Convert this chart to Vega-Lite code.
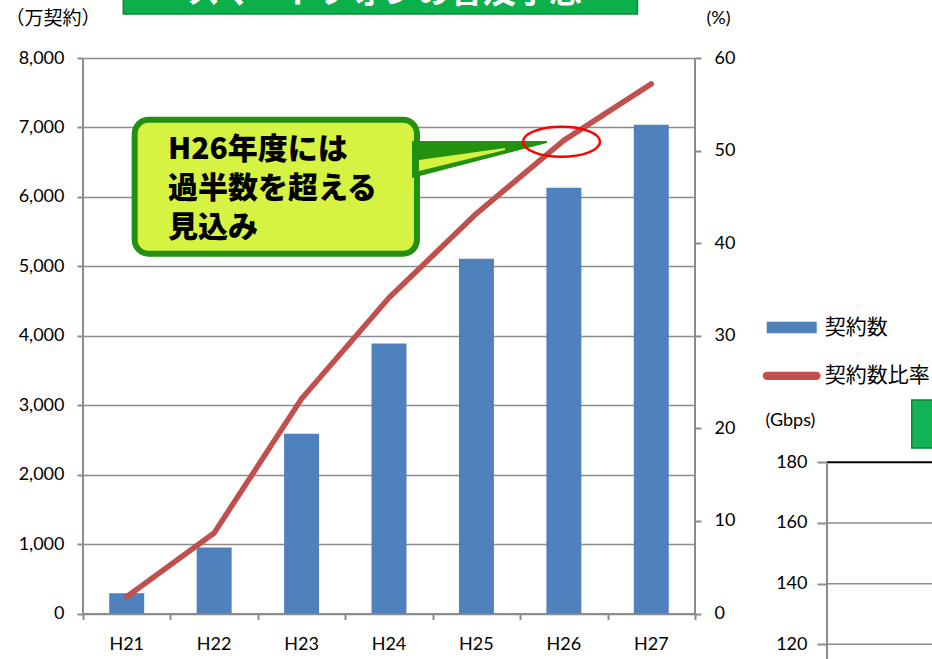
{
  "$schema": "https://vega.github.io/schema/vega-lite/v6.json",
  "width": 612,
  "height": 601,
  "autosize": {"type": "none"},
  "padding": {"left": 83, "top": 58, "right": 237, "bottom": 0},
  "background": "white",
  "config": {"view": {"stroke": null}, "font": "Lato"},
  "datasets": {
    "contracts": [
      {"year": "H21", "count": 290, "ratio": 1.8},
      {"year": "H22", "count": 950, "ratio": 8.7},
      {"year": "H23", "count": 2590, "ratio": 23.2},
      {"year": "H24", "count": 3890, "ratio": 34.1},
      {"year": "H25", "count": 5110, "ratio": 43.2},
      {"year": "H26", "count": 6130, "ratio": 51.1},
      {"year": "H27", "count": 7040, "ratio": 57.2}
    ],
    "axisLines": [
      {"pos": 0, "v0": 0, "v1": 8000},
      {"pos": 7, "v0": 0, "v1": 8000}
    ],
    "banner": [
      {"x0": 0.461, "x1": 6.342, "v0": 8633.7, "v1": 9500, "label": "スマートフォンの普及予想", "xc": 3.449, "vt": 8792}
    ],
    "calloutBox": [
      {"x0": 0.591, "x1": 3.82, "v0": 5181.7, "v1": 7111.4}
    ],
    "calloutTail": [
      {"pos": 3.763, "top": 6804.7, "bottom": 6271.8},
      {"pos": 5.307, "top": 6804.7, "bottom": 6775.9}
    ],
    "calloutTailLight": [
      {"pos": 3.843, "top": 6531.1, "bottom": 6372.7},
      {"pos": 4.827, "top": 6703.9, "bottom": 6675.1}
    ],
    "calloutText": [
      {"pos": 0.972, "v": 6675.1, "line": "H26年度には"},
      {"pos": 0.972, "v": 6113.4, "line": "過半数を超える"},
      {"pos": 0.972, "v": 5551.8, "line": "見込み"}
    ],
    "highlight": [
      {"pos": 5.473, "v": 6794.6}
    ],
    "gbpsGrid": [
      {"g": 120, "x0": 8.51, "x1": 9.75},
      {"g": 140, "x0": 8.51, "x1": 9.75},
      {"g": 160, "x0": 8.51, "x1": 9.75}
    ],
    "gbpsTop": [
      {"g": 180, "x0": 8.51, "x1": 9.75}
    ],
    "gbpsAxisLine": [
      {"pos": 8.51, "g0": 115.16, "g1": 180}
    ],
    "gbpsBox": [
      {"x0": 9.479, "x1": 9.75, "g0": 184.72, "g1": 200.54}
    ]
  },
  "layer": [
    {
      "data": {"name": "contracts"},
      "mark": {"type": "bar", "width": {"band": 0.4}, "color": "#4f81bd"},
      "encoding": {
        "x": {
          "field": "year", "type": "nominal", "sort": null,
          "scale": {"type": "band", "paddingInner": 0, "paddingOuter": 0},
          "axis": {
            "orient": "bottom", "offset": -45.5, "title": null, "labelAngle": 0,
            "ticks": false, "tickSize": 0, "labelPadding": 22,
            "domain": true, "domainColor": "#8c8c8c", "domainWidth": 2,
            "labelFont": "Lato", "labelFontSize": 18, "labelColor": "#000000", "grid": false
          }
        },
        "y": {
          "field": "count", "type": "quantitative",
          "scale": {"domain": [-655.2, 8000], "nice": false, "zero": false},
          "axis": {
            "orient": "left", "values": [0, 1000, 2000, 3000, 4000, 5000, 6000, 7000, 8000],
            "format": ",.0f", "title": "（万契約）", "titleAngle": 0, "titleX": -78, "titleY": -40,
            "titleAlign": "left", "titleBaseline": "middle", "titleFont": "Noto Sans CJK JP",
            "titleFontSize": 19, "titleFontWeight": "normal", "titleColor": "#000000",
            "grid": true, "gridColor": "#8c8c8c", "gridWidth": 1.5, "domain": false,
            "tickSize": 6, "tickColor": "#8c8c8c", "tickWidth": 2, "labelPadding": 13,
            "labelFont": "Lato", "labelFontSize": 18, "labelColor": "#000000"
          }
        },
        "fill": {
          "datum": "契約数", "type": "nominal",
          "scale": {"range": ["#4f81bd"]},
          "legend": {
            "orient": "none", "legendX": 683.7, "legendY": 244.5, "title": null, "padding": 0,
            "symbolType": "M-1,-0.234L1,-0.234L1,0.234L-1,0.234Z", "symbolSize": 2500,
            "symbolStrokeWidth": 0, "labelFont": "Noto Sans CJK JP", "labelFontSize": 21,
            "labelColor": "#000000", "labelOffset": 8
          }
        }
      }
    },
    {
      "data": {"name": "contracts"},
      "mark": {"type": "line", "strokeWidth": 5.5, "strokeCap": "round", "strokeJoin": "round"},
      "encoding": {
        "x": {
          "field": "year", "type": "nominal", "sort": null,
          "scale": {"type": "point", "padding": 0.5},
          "axis": null
        },
        "y": {
          "field": "ratio", "type": "quantitative",
          "scale": {"domain": [-4.914, 60], "nice": false, "zero": false},
          "axis": {
            "orient": "right", "values": [0, 10, 20, 30, 40, 50, 60],
            "title": "(%)", "titleAngle": 0, "titleX": 11, "titleY": -40,
            "titleAlign": "left", "titleBaseline": "middle", "titleFont": "Lato",
            "titleFontSize": 18, "titleFontWeight": "normal", "titleColor": "#000000",
            "grid": false, "domain": false, "tickSize": 6, "tickColor": "#8c8c8c", "tickWidth": 2,
            "labelPadding": 13, "labelFont": "Lato", "labelFontSize": 18, "labelColor": "#000000"
          }
        },
        "stroke": {
          "datum": "契約数比率", "type": "nominal",
          "scale": {"range": ["#c0504d"]},
          "legend": {
            "orient": "none", "legendX": 679.7, "legendY": 288.8, "title": null, "padding": 0,
            "symbolType": "M-0.857,-0.143L0.857,-0.143A0.143,0.143,0,0,1,0.857,0.143L-0.857,0.143A0.143,0.143,0,0,1,-0.857,-0.143Z",
            "symbolSize": 3364, "symbolFillColor": "#c0504d", "symbolStrokeWidth": 0,
            "labelFont": "Noto Sans CJK JP", "labelFontSize": 21,
            "labelColor": "#000000", "labelOffset": 4
          }
        }
      }
    },
    {
      "data": {"name": "axisLines"},
      "mark": {"type": "rule", "color": "#8c8c8c", "strokeWidth": 2},
      "encoding": {
        "x": {
          "field": "pos", "type": "quantitative",
          "scale": {"domain": [0, 7], "nice": false, "zero": false},
          "axis": {
            "orient": "bottom", "offset": -45.5, "values": [0, 1, 2, 3, 4, 5, 6, 7],
            "labels": false, "domain": false, "grid": false, "ticks": true, "tickSize": 6,
            "tickColor": "#8c8c8c", "tickWidth": 2, "title": null
          }
        },
        "y": {"field": "v0", "type": "quantitative", "scale": {"domain": [-655.2, 8000], "nice": false, "zero": false}, "axis": null},
        "y2": {"field": "v1"}
      }
    },
    {
      "data": {"name": "banner"},
      "mark": {"type": "rect", "color": "#0cb04b", "stroke": "#078a3a", "strokeWidth": 1.5},
      "encoding": {
        "x": {"field": "x0", "type": "quantitative", "scale": {"domain": [0, 7], "nice": false, "zero": false}, "axis": null},
        "x2": {"field": "x1"},
        "y": {"field": "v0", "type": "quantitative", "scale": {"domain": [-655.2, 8000], "nice": false, "zero": false}, "axis": null},
        "y2": {"field": "v1"}
      }
    },
    {
      "data": {"name": "banner"},
      "mark": {"type": "text", "color": "#ffffff", "font": "Noto Sans CJK JP", "fontSize": 33, "fontWeight": "bold", "align": "center", "baseline": "alphabetic"},
      "encoding": {
        "x": {"field": "xc", "type": "quantitative", "scale": {"domain": [0, 7], "nice": false, "zero": false}, "axis": null},
        "y": {"field": "vt", "type": "quantitative", "scale": {"domain": [-655.2, 8000], "nice": false, "zero": false}, "axis": null},
        "text": {"field": "label"}
      }
    },
    {
      "data": {"name": "calloutBox"},
      "mark": {"type": "rect", "color": "#d6f341", "stroke": "#23900f", "strokeWidth": 6, "cornerRadius": 14},
      "encoding": {
        "x": {"field": "x0", "type": "quantitative", "scale": {"domain": [0, 7], "nice": false, "zero": false}, "axis": null},
        "x2": {"field": "x1"},
        "y": {"field": "v0", "type": "quantitative", "scale": {"domain": [-655.2, 8000], "nice": false, "zero": false}, "axis": null},
        "y2": {"field": "v1"}
      }
    },
    {
      "data": {"name": "calloutTail"},
      "mark": {"type": "area", "color": "#23900f", "opacity": 1},
      "encoding": {
        "x": {"field": "pos", "type": "quantitative", "scale": {"domain": [0, 7], "nice": false, "zero": false}, "axis": null},
        "y": {"field": "top", "type": "quantitative", "scale": {"domain": [-655.2, 8000], "nice": false, "zero": false}, "axis": null},
        "y2": {"field": "bottom"}
      }
    },
    {
      "data": {"name": "calloutTailLight"},
      "mark": {"type": "area", "color": "#d6f341", "opacity": 1},
      "encoding": {
        "x": {"field": "pos", "type": "quantitative", "scale": {"domain": [0, 7], "nice": false, "zero": false}, "axis": null},
        "y": {"field": "top", "type": "quantitative", "scale": {"domain": [-655.2, 8000], "nice": false, "zero": false}, "axis": null},
        "y2": {"field": "bottom"}
      }
    },
    {
      "data": {"name": "calloutText"},
      "mark": {"type": "text", "color": "#000000", "font": "Noto Sans CJK JP", "fontSize": 30, "fontWeight": 900, "align": "left", "baseline": "middle"},
      "encoding": {
        "x": {"field": "pos", "type": "quantitative", "scale": {"domain": [0, 7], "nice": false, "zero": false}, "axis": null},
        "y": {"field": "v", "type": "quantitative", "scale": {"domain": [-655.2, 8000], "nice": false, "zero": false}, "axis": null},
        "text": {"field": "line"}
      }
    },
    {
      "data": {"name": "highlight"},
      "mark": {"type": "point", "shape": "M-1,0A1,0.39,0,1,1,1,0A1,0.39,0,1,1,-1,0Z", "size": 5929, "filled": false, "stroke": "#ff0000", "strokeWidth": 2.5, "opacity": 1},
      "encoding": {
        "x": {"field": "pos", "type": "quantitative", "scale": {"domain": [0, 7], "nice": false, "zero": false}, "axis": null},
        "y": {"field": "v", "type": "quantitative", "scale": {"domain": [-655.2, 8000], "nice": false, "zero": false}, "axis": null}
      }
    },
    {
      "data": {"name": "gbpsGrid"},
      "mark": {"type": "rule", "color": "#8c8c8c", "strokeWidth": 1.5},
      "encoding": {
        "x": {"field": "x0", "type": "quantitative", "scale": {"domain": [0, 7], "nice": false, "zero": false}, "axis": null},
        "x2": {"field": "x1"},
        "y": {
          "field": "g", "type": "quantitative",
          "scale": {"domain": [115.16, 313.28], "nice": false, "zero": false},
          "axis": {
            "orient": "left", "offset": -744, "values": [120, 140, 160, 180],
            "grid": false, "domain": false, "tickSize": 10, "tickColor": "#8c8c8c", "tickWidth": 2,
            "labelPadding": 10, "labelFont": "Lato", "labelFontSize": 18, "labelColor": "#000000",
            "title": "(Gbps)", "titleAngle": 0, "titleX": -62, "titleY": 362,
            "titleAlign": "left", "titleBaseline": "middle", "titleFont": "Lato",
            "titleFontSize": 18, "titleFontWeight": "normal", "titleColor": "#000000"
          }
        }
      }
    },
    {
      "data": {"name": "gbpsTop"},
      "mark": {"type": "rule", "color": "#000000", "strokeWidth": 2},
      "encoding": {
        "x": {"field": "x0", "type": "quantitative", "scale": {"domain": [0, 7], "nice": false, "zero": false}, "axis": null},
        "x2": {"field": "x1"},
        "y": {"field": "g", "type": "quantitative", "scale": {"domain": [115.16, 313.28], "nice": false, "zero": false}, "axis": null}
      }
    },
    {
      "data": {"name": "gbpsAxisLine"},
      "mark": {"type": "rule", "color": "#8c8c8c", "strokeWidth": 2},
      "encoding": {
        "x": {"field": "pos", "type": "quantitative", "scale": {"domain": [0, 7], "nice": false, "zero": false}, "axis": null},
        "y": {"field": "g0", "type": "quantitative", "scale": {"domain": [115.16, 313.28], "nice": false, "zero": false}, "axis": null},
        "y2": {"field": "g1"}
      }
    },
    {
      "data": {"name": "gbpsBox"},
      "mark": {"type": "rect", "color": "#12b352", "stroke": "#07873a", "strokeWidth": 1.5},
      "encoding": {
        "x": {"field": "x0", "type": "quantitative", "scale": {"domain": [0, 7], "nice": false, "zero": false}, "axis": null},
        "x2": {"field": "x1"},
        "y": {"field": "g0", "type": "quantitative", "scale": {"domain": [115.16, 313.28], "nice": false, "zero": false}, "axis": null},
        "y2": {"field": "g1"}
      }
    }
  ],
  "resolve": {"scale": {"x": "independent", "y": "independent"}}
}
